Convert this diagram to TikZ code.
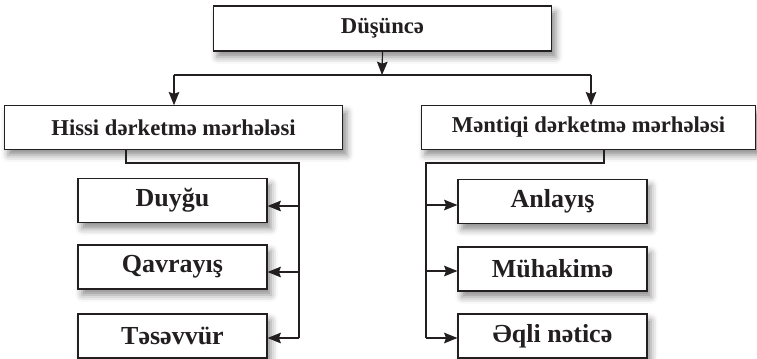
\documentclass[tikz,border=0pt]{standalone}
\usepackage{fontspec}
\setmainfont{Liberation Serif}
\usetikzlibrary{arrows.meta,calc,shadows.blur}
\definecolor{ink}{HTML}{231F20}
\tikzset{
  box/.style={draw=ink, line width=0.9pt, fill=white, inner sep=0pt, text=ink,
    blur shadow={shadow xshift=3pt, shadow yshift=-4.5pt, shadow blur radius=5pt, shadow opacity=45}},
  bigbox/.style={box, minimum height=32.5pt, font=\bfseries\fontsize{17}{20}\selectfont},
  smallbox/.style={box, minimum width=141.75pt, minimum height=33pt, font=\bfseries\fontsize{19.5}{22}\selectfont},
  conn/.style={draw=ink, line width=0.9pt},
  arr/.style={conn, -{Stealth[length=10pt,width=8pt,inset=1.5pt]}},
}
\begin{document}
\begin{tikzpicture}[x=0.75pt,y=-0.75pt]
\useasboundingbox (0,0) rectangle (757,358);
% top
\node[bigbox, minimum width=254pt, minimum height=33.75pt] (top) at (382.5,28.5) {Düşüncə};
\node[bigbox, minimum width=254pt] (hissi) at (173.5,127.5) {Hissi dərketmə mərhələsi};
\node[bigbox, minimum width=251pt] (mentiqi) at (588.5,127.5) {Məntiqi dərketmə mərhələsi};
% left children
\node[smallbox] (duygu) at (172.5,200.5) {Duyğu};
\node[smallbox] (qavr) at (172.5,267) {Qavrayış};
\node[smallbox] (tesevvur) at (172.5,336) {Təsəvvür};
% right children
\node[smallbox] (anlayis) at (552.5,201.5) {Anlayış};
\node[smallbox] (muhakime) at (552.5,269) {Mühakimə};
\node[smallbox] (eqli) at (552.5,336) {Əqli nəticə};
% top connectors
\coordinate (split) at (382,75);
\draw[arr] (top.south) -- (split);
\coordinate (lbr) at (174,75);
\coordinate (rbr) at (591,75);
\draw[conn] (lbr) -- (rbr);
\draw[arr] (lbr) -- (lbr |- hissi.north);
\draw[arr] (rbr) -- (rbr |- mentiqi.north);
% left tree
\coordinate (lt) at (299,163);
\coordinate (lb) at (299,338);
\draw[conn] (hissi.south -| 126,0) |- (lt) -- (lb);
\draw[arr] (299,206) -- (duygu.east |- 0,206);
\draw[arr] (299,272) -- (qavr.east |- 0,272);
\draw[arr] (lb) -- (tesevvur.east |- lb);
% right tree
\coordinate (rt) at (426,163);
\coordinate (rb) at (426,338);
\draw[conn] (mentiqi.south -| 604,0) |- (rt) -- (rb);
\draw[arr] (426,205) -- (anlayis.west |- 0,205);
\draw[arr] (426,271) -- (muhakime.west |- 0,271);
\draw[arr] (rb) -- (eqli.west |- rb);
\end{tikzpicture}
\end{document}
